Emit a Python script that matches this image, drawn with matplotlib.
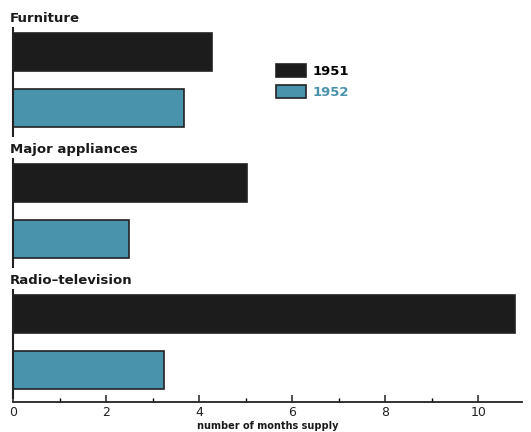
import numpy as np
import matplotlib
matplotlib.use('Agg')
import matplotlib.pyplot as plt
from matplotlib.ticker import MultipleLocator

# months of supply by store type
categories = ['Furniture', 'Major appliances', 'Radio-television']
years = ['1951', '1952']
supply_1951 = [4.27, 5.02, 10.8]
supply_1952 = [3.68, 2.49, 3.25]

colors = ['#1c1c1c', '#4a93ad']
edge = '#222222'

fig = plt.figure(figsize=(5.31, 4.32), dpi=100)
ax = fig.add_axes([13.3 / 531, 1 - 402 / 432, (522 - 13.3) / 531, (402 - 27) / 432])

# vertical layout in pixel-like units, top to bottom
group_step = 131
pair_step = 56
first = 52
bar_h = 38

handles = []
for s, vals in enumerate([supply_1951, supply_1952]):
    ys = [first + group_step * g + pair_step * s for g in range(len(categories))]
    b = ax.barh(ys, vals, height=bar_h, color=colors[s], edgecolor=edge,
                linewidth=1.2, label=years[s])
    handles.append(b)

for g, name in enumerate(categories):
    c1 = first + group_step * g
    c2 = c1 + pair_step
    ax.vlines(0, c1 - 25, c2 + 29, color=edge, lw=1.5, clip_on=False)
    ax.text(-0.08, c1 - 33, name.replace('-', '\u2013'), ha='left', va='center',
            fontsize=9.5, fontweight='semibold', color='#1a1a1a')

ax.set_ylim(402, 27)
ax.set_xlim(0, 10.94)
for sp in ['left', 'right', 'top']:
    ax.spines[sp].set_visible(False)
ax.spines['bottom'].set_linewidth(1.3)
ax.spines['bottom'].set_color(edge)
ax.set_yticks([])
ax.xaxis.set_major_locator(MultipleLocator(2))
ax.xaxis.set_minor_locator(MultipleLocator(1))
ax.tick_params(axis='x', which='major', direction='in', length=5, width=1.1,
               labelsize=9, pad=3, colors=edge)
ax.tick_params(axis='x', which='minor', direction='in', length=3, width=1)
ax.set_xlabel('number of months supply', fontsize=7, fontweight='bold',
              labelpad=1, color='#1a1a1a')

ax.legend(handles=handles, loc='center left', bbox_to_anchor=(0.494, 0.855),
          frameon=False, handlelength=2.2, handleheight=1.1,
          handletextpad=0.5, labelspacing=0.55,
          prop={'size': 9.5, 'weight': 'semibold'})
leg = ax.get_legend()
leg.get_texts()[1].set_color(colors[1])

fig.savefig('out.png', dpi=100)
